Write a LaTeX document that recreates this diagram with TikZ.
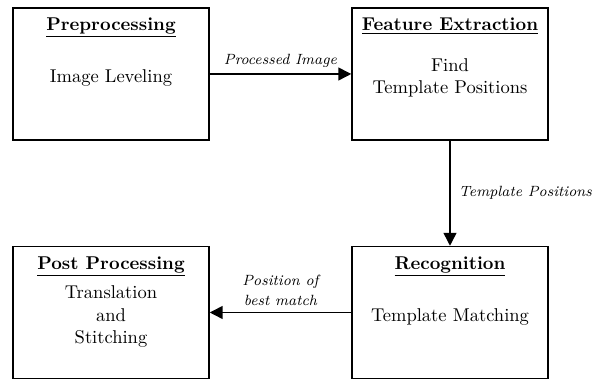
\documentclass[tikz,border=0pt]{standalone}
\usetikzlibrary{arrows.meta,positioning}
\begin{document}
\begin{tikzpicture}[x=0.54pt,y=0.54pt,
  stage/.style={draw, line width=0.8pt, minimum width=196*0.54pt, minimum height=132*0.54pt,
    inner sep=0pt},
  stagebody/.style={inner sep=0pt, align=center, yshift=-2.2pt, font=\normalsize},
  stagetitle/.style={anchor=north, inner sep=0pt, yshift=-5.5pt, font=\bfseries},
  flow/.style={line width=0.8pt, -{Triangle[length=7pt,width=7pt]}},
  flowlabel/.style={font=\footnotesize\itshape, align=center}]
  \useasboundingbox (0,0) rectangle (599,379);

  % the four processing stages
  \node[stage] (pre)  at (111,305)  {};
  \node[stage] (feat) at (450,305)  {};
  \node[stage] (post) at (111,66.5) {};
  \node[stage] (rec)  at (450,66.5) {};

  % stage headings
  \node[stagetitle] (preT)  at (pre.north)  {\underline{Preprocessing}};
  \node[stagetitle] (featT) at (feat.north) {\underline{Feature Extraction}};
  \node[stagetitle] (postT) at (post.north) {\underline{Post Processing}};
  \node[stagetitle] (recT)  at (rec.north)  {\underline{Recognition}};

  % stage contents
  \node[stagebody] (preB)  at (pre.center)  {Image Leveling};
  \node[stagebody] (featB) at (feat.center) {Find\\Template Positions};
  \node[stagebody] (postB) at (post.center) {Translation\\and\\Stitching};
  \node[stagebody] (recB)  at (rec.center)  {Template Matching};

  % data flow between stages
  \draw[flow] (pre.east) -- node[flowlabel, above=0pt] {Processed Image} (feat.west);
  \draw[flow] (feat.south) -- node[flowlabel, right=1pt] {Template Positions} (rec.north);
  \draw[flow] (rec.west) -- node[flowlabel, above=0pt] {Position of\\[1.3pt]best match} (post.east);
\end{tikzpicture}
\end{document}
